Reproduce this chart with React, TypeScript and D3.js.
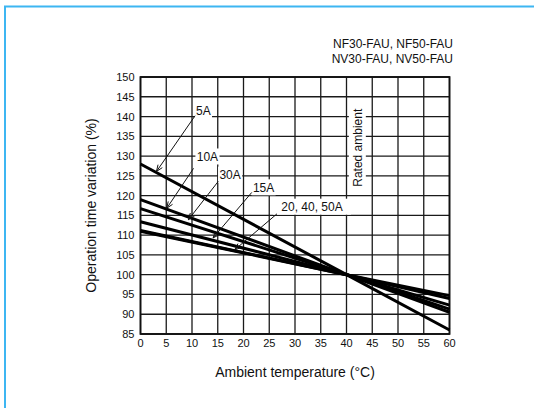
import React from "react";
import * as d3 from "d3";

// ---- data ----
const temps = [0, 40, 60];
const seriesNames = ["5A", "10A", "30A", "15A", "20A", "40A, 50A"];
const valuesAt0 = [128, 119, 116.7, 113.4, 111.2, 111.0];
const valuesAt40 = [100, 100, 100, 100, 100, 100];
const valuesAt60 = [86, 90.5, 91.3, 92.3, 94.0, 94.7];

const xTicks = [0, 5, 10, 15, 20, 25, 30, 35, 40, 45, 50, 55, 60];
const yTicks = [85, 90, 95, 100, 105, 110, 115, 120, 125, 130, 135, 140, 145, 150];

const labelTexts = ["5A", "10A", "30A", "15A", "20, 40, 50A"];
const labelX = [12.2, 13.0, 17.4, 23.9, 33.3];
const labelY = [141.5, 129.9, 125.3, 122.1, 117.2];
const arrowFromX = [10.6, 10.3, 15.1, 21.6, 26.5];
const arrowFromY = [140.2, 126.9, 123.6, 120.8, 115.4];
const arrowToX = [3.1, 5.1, 9.3, 14.1, 18.3];
const arrowToY = [126.1, 116.8, 113.9, 109.3, 106.3];

const headerLines = ["NF30-FAU, NF50-FAU", "NV30-FAU, NV50-FAU"];
const ratedText = "Rated ambient";
const ratedX = 42.2;
const ratedY = 132.1;

const FONT = "'Liberation Sans', Arial, Helvetica, sans-serif";

export default function App() {
  const W = 534, H = 408;
  const x = d3.scaleLinear().domain([0, 60]).range([140.5, 449.5]);
  const y = d3.scaleLinear().domain([85, 150]).range([334, 77]);

  const series = seriesNames.map((name, i) => ({
    name,
    pts: temps.map((t, j) => [t, [valuesAt0[i], valuesAt40[i], valuesAt60[i]][j]] as [number, number]),
  }));
  const line = d3.line<[number, number]>().x(d => x(d[0])).y(d => y(d[1]));

  const arrowHead = (x1: number, y1: number, x2: number, y2: number) => {
    const ang = Math.atan2(y2 - y1, x2 - x1);
    const len = 7, spread = 0.38;
    const a1 = ang + Math.PI - spread, a2 = ang + Math.PI + spread;
    return `M${x2 + len * Math.cos(a1)},${y2 + len * Math.sin(a1)}L${x2},${y2}L${x2 + len * Math.cos(a2)},${y2 + len * Math.sin(a2)}`;
  };

  return (
    <svg width={W} height={H} style={{ position: "absolute", left: 0, top: 0, background: "#fff" }}>
      <rect x={0} y={0} width={W} height={H} fill="#fff" />
      {/* blue frame */}
      <path d={`M5,${H + 5}V6.5H${W + 5}`} fill="none" stroke="#3db6f2" strokeWidth={2} />

      {/* header */}
      {headerLines.map((t, i) => (
        <text key={t} x={453} y={48 + i * 15} textAnchor="end" fontFamily={FONT} fontSize={12} fill="#111">{t}</text>
      ))}

      {/* grid */}
      {xTicks.map(t => (
        <line key={"gx" + t} x1={x(t)} x2={x(t)} y1={y(85)} y2={y(150)} stroke="#1a1a1a" strokeWidth={1.3} />
      ))}
      {yTicks.map(t => (
        <line key={"gy" + t} x1={x(0)} x2={x(60)} y1={y(t)} y2={y(t)} stroke="#1a1a1a" strokeWidth={1.3} />
      ))}
      <rect x={x(0)} y={y(150)} width={x(60) - x(0)} height={y(85) - y(150)} fill="none" stroke="#111" strokeWidth={1.8} />

      {/* tick labels */}
      {yTicks.map(t => (
        <text key={"ty" + t} x={x(0) - 6} y={y(t) + 4} textAnchor="end" fontFamily={FONT} fontSize={11} fill="#111">{t}</text>
      ))}
      {xTicks.map(t => (
        <text key={"tx" + t} x={x(t)} y={y(85) + 13} textAnchor="middle" fontFamily={FONT} fontSize={11} fill="#111">{t}</text>
      ))}

      {/* axis titles */}
      <text x={(x(0) + x(60)) / 2} y={377} textAnchor="middle" fontFamily={FONT} fontSize={14} fill="#111">Ambient temperature (°C)</text>
      <text transform={`translate(96,${(y(85) + y(150)) / 2}) rotate(-90)`} textAnchor="middle" fontFamily={FONT} fontSize={14} fill="#111">Operation time variation (%)</text>

      {/* rated ambient label */}
      <g transform={`translate(${x(ratedX)},${y(ratedY)}) rotate(-90)`}>
        <rect x={-45} y={-9} width={90} height={17} fill="#fff" />
        <text x={0} y={4.5} textAnchor="middle" fontFamily={FONT} fontSize={12} fill="#111">{ratedText}</text>
      </g>

      {/* series lines */}
      {series.map(s => (
        <path key={s.name} d={line(s.pts) || ""} fill="none" stroke="#000" strokeWidth={3} />
      ))}

      {/* annotations */}
      {labelTexts.map((t, i) => {
        const w = t.length * 6.7 + 4;
        const x1 = x(arrowFromX[i]), y1 = y(arrowFromY[i]);
        const x2 = x(arrowToX[i]), y2 = y(arrowToY[i]);
        return (
          <g key={t}>
            <rect x={x(labelX[i]) - w / 2} y={y(labelY[i]) - 8} width={w} height={16} fill="#fff" />
            <text x={x(labelX[i])} y={y(labelY[i]) + 4.5} textAnchor="middle" fontFamily={FONT} fontSize={12} fill="#111">{t}</text>
            <line x1={x1} y1={y1} x2={x2} y2={y2} stroke="#111" strokeWidth={1} />
            <path d={arrowHead(x1, y1, x2, y2)} fill="none" stroke="#111" strokeWidth={1} />
          </g>
        );
      })}
    </svg>
  );
}
